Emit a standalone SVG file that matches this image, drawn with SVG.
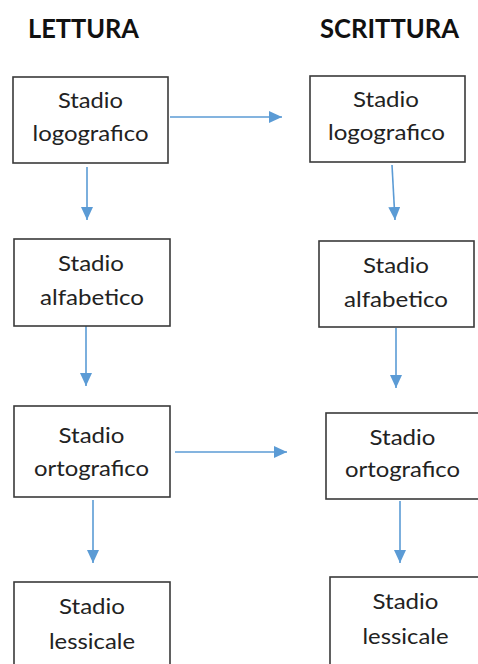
<svg xmlns="http://www.w3.org/2000/svg" width="478" height="664" viewBox="0 0 478 664">
  <style>
    .box { fill: #ffffff; stroke: #3a3a3a; stroke-width: 1.6; }
    .title { font-family: Lato, "Liberation Sans", sans-serif; font-weight: bold; font-size: 26px; fill: #111111; }
    .lbl { font-family: Lato, "Liberation Sans", sans-serif; font-size: 21px; fill: #222222; text-anchor: middle; }
    .edge { stroke: #5b9bd5; stroke-width: 1.6; fill: none; marker-end: url(#head); }
  </style>
  <defs>
    <marker id="head" viewBox="0 0 13 12" refX="13" refY="6" markerWidth="13" markerHeight="12" markerUnits="userSpaceOnUse" orient="auto">
      <path d="M0,0 L13,6 L0,12 Z" fill="#5b9bd5"/>
    </marker>
  </defs>

  <rect width="478" height="664" fill="#ffffff"/>

  <text class="title" x="28" y="38" textLength="111" lengthAdjust="spacingAndGlyphs">LETTURA</text>
  <text class="title" x="320" y="38" textLength="139" lengthAdjust="spacingAndGlyphs">SCRITTURA</text>

  <!-- connectors -->
  <g id="connectors">
    <line class="edge" x1="170" y1="117" x2="282" y2="117"/>
    <line class="edge" x1="87" y1="167" x2="87" y2="220"/>
    <line class="edge" x1="392" y1="165" x2="395" y2="220"/>
    <line class="edge" x1="86" y1="326" x2="86" y2="386"/>
    <line class="edge" x1="396" y1="328" x2="396" y2="388"/>
    <line class="edge" x1="175" y1="452" x2="287" y2="452"/>
    <line class="edge" x1="93" y1="500" x2="93" y2="563"/>
    <line class="edge" x1="400" y1="501" x2="400" y2="563"/>
  </g>

  <!-- reading column -->
  <g id="l-logografico">
    <rect class="box" x="13" y="77" width="155" height="86"/>
    <text class="lbl" x="90.5" y="108" textLength="65" lengthAdjust="spacingAndGlyphs">Stadio</text>
    <text class="lbl" x="90.5" y="141" textLength="116" lengthAdjust="spacingAndGlyphs">logografico</text>
  </g>
  <g id="l-alfabetico">
    <rect class="box" x="14" y="239" width="156" height="87"/>
    <text class="lbl" x="91" y="271" textLength="66" lengthAdjust="spacingAndGlyphs">Stadio</text>
    <text class="lbl" x="92" y="305" textLength="104" lengthAdjust="spacingAndGlyphs">alfabetico</text>
  </g>
  <g id="l-ortografico">
    <rect class="box" x="14" y="406" width="156" height="91"/>
    <text class="lbl" x="91.5" y="443" textLength="66" lengthAdjust="spacingAndGlyphs">Stadio</text>
    <text class="lbl" x="91.5" y="476" textLength="115" lengthAdjust="spacingAndGlyphs">ortografico</text>
  </g>
  <g id="l-lessicale">
    <rect class="box" x="14" y="582" width="156" height="100"/>
    <text class="lbl" x="92" y="614" textLength="66" lengthAdjust="spacingAndGlyphs">Stadio</text>
    <text class="lbl" x="92" y="649" textLength="86" lengthAdjust="spacingAndGlyphs">lessicale</text>
  </g>

  <!-- writing column -->
  <g id="r-logografico">
    <rect class="box" x="310" y="76" width="155" height="86"/>
    <text class="lbl" x="386" y="107" textLength="66" lengthAdjust="spacingAndGlyphs">Stadio</text>
    <text class="lbl" x="386.5" y="140" textLength="117" lengthAdjust="spacingAndGlyphs">logografico</text>
  </g>
  <g id="r-alfabetico">
    <rect class="box" x="319" y="241" width="155" height="86"/>
    <text class="lbl" x="396" y="273" textLength="66" lengthAdjust="spacingAndGlyphs">Stadio</text>
    <text class="lbl" x="396" y="307" textLength="104" lengthAdjust="spacingAndGlyphs">alfabetico</text>
  </g>
  <g id="r-ortografico">
    <rect class="box" x="326" y="413" width="160" height="86"/>
    <text class="lbl" x="402.5" y="445" textLength="66" lengthAdjust="spacingAndGlyphs">Stadio</text>
    <text class="lbl" x="402.5" y="477" textLength="115" lengthAdjust="spacingAndGlyphs">ortografico</text>
  </g>
  <g id="r-lessicale">
    <rect class="box" x="330" y="577" width="160" height="100"/>
    <text class="lbl" x="405.5" y="609" textLength="66" lengthAdjust="spacingAndGlyphs">Stadio</text>
    <text class="lbl" x="405.5" y="644" textLength="86" lengthAdjust="spacingAndGlyphs">lessicale</text>
  </g>
</svg>
